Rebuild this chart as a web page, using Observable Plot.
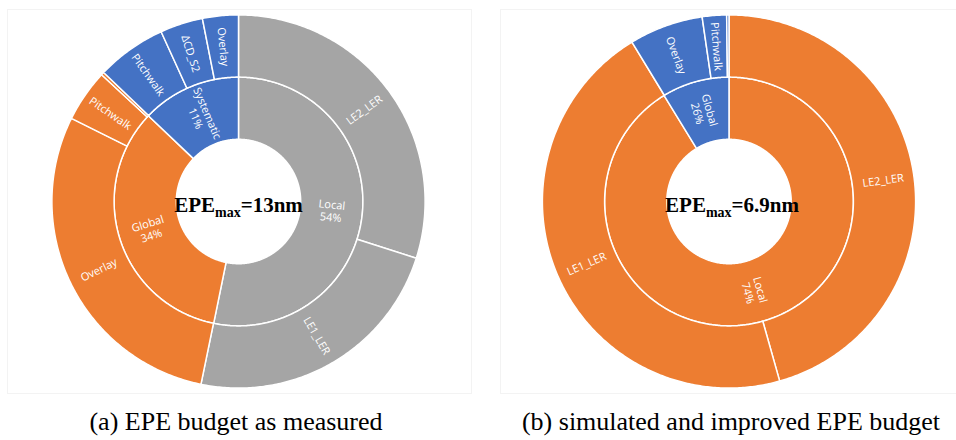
<!DOCTYPE html>
<html><head><meta charset="utf-8">
<script src="https://cdn.jsdelivr.net/npm/d3@7"></script>
<script src="https://cdn.jsdelivr.net/npm/@observablehq/plot@0.6"></script>
<style>
body{margin:0;background:#fff;}
#wrap{position:relative;width:956px;height:440px;overflow:hidden;}
.frame{position:absolute;border:1px solid #f3f3f3;}
#chart{position:absolute;left:0;top:0;}
.cap{position:absolute;top:404px;font-family:"Liberation Serif","Times New Roman",serif;font-size:26px;line-height:36px;white-space:nowrap;transform:translateX(-50%);color:#000;}
</style></head><body>
<div id="wrap">
  <div class="frame" style="left:7px;top:9px;width:463px;height:383px"></div>
  <div class="frame" style="left:500px;top:9px;width:460px;height:383px"></div>
  <div id="chart"></div>
  <div class="cap" id="capA" style="left:236px"></div>
  <div class="cap" id="capB" style="left:731px"></div>
</div>
<script>
// ---------- Chart (a): EPE budget as measured ----------
const innerA = ["Local", "Global", "Systematic"];
const innerA_pct = ["54%", "34%", "11%"];
const innerA_share = [53.2, 33.9, 12.9];          // arc share (% of circle)
const innerA_color = ["#A5A5A5", "#ED7D31", "#4472C4"];
const outerA = ["LE2_LER", "LE1_LER", "Overlay", "Pitchwalk", "", "Pitchwalk", "ΔCD_S2", "Overlay"];
const outerA_parent = ["Local", "Local", "Global", "Global", "Global", "Systematic", "Systematic", "Systematic"];
const outerA_share = [29.9, 23.3, 29.1, 4.55, 0.25, 6.05, 3.7, 3.1];

// ---------- Chart (b): simulated and improved EPE budget ----------
const innerB = ["Local", "Global"];
const innerB_pct = ["74%", "26%"];
const innerB_share = [91.25, 8.75];
const innerB_color = ["#ED7D31", "#4472C4"];
const outerB = ["LE2_LER", "LE1_LER", "Overlay", "Pitchwalk", ""];
const outerB_parent = ["Local", "Local", "Global", "Global", "Global"];
const outerB_share = [45.6, 45.65, 6.4, 2.1, 0.2];

const centerMain = ["EPE", "EPE"];
const centerSub = ["max", "max"];
const centerRest = ["=13nm", "=6.9nm"];
const captions = ["(a) EPE budget as measured", "(b) simulated and improved EPE budget"];

// ---------- layout ----------
const k = 62.2;                 // pixels per ring unit
const centersX = [0, 490.5 / k]; // chart centres in ring units
const centerTextShift = [0, 3 / k];

function build(chart, cx, inner, pct, ishare, icolor, outer, parent, oshare, segs, labels) {
  const itot = d3.sum(ishare), otot = d3.sum(oshare);
  let a = 0;
  inner.forEach((name, i) => {
    const a0 = a, a1 = a + ishare[i] / itot * 2 * Math.PI; a = a1;
    segs.push({id: chart + "i" + i, cx, r0: 1, r1: 2, a0, a1, color: icolor[i]});
    labels.push({cx, r: 1.5, a: (a0 + a1) / 2, text: name + "\n" + pct[i]});
  });
  a = 0;
  outer.forEach((name, i) => {
    const a0 = a, a1 = a + oshare[i] / otot * 2 * Math.PI; a = a1;
    segs.push({id: chart + "o" + i, cx, r0: 2, r1: 3, a0, a1, color: icolor[inner.indexOf(parent[i])]});
    if (name) labels.push({cx, r: 2.5, a: (a0 + a1) / 2, text: name});
  });
}
const segs = [], labels = [];
build("a", centersX[0], innerA, innerA_pct, innerA_share, innerA_color, outerA, outerA_parent, outerA_share, segs, labels);
build("b", centersX[1], innerB, innerB_pct, innerB_share, innerB_color, outerB, outerB_parent, outerB_share, segs, labels);

const points = [];
for (const s of segs) {
  const n = Math.max(2, Math.ceil((s.a1 - s.a0) / 0.01));
  for (let j = 0; j <= n; j++) {
    const t = s.a0 + (s.a1 - s.a0) * j / n;
    points.push({id: s.id, color: s.color, x: s.cx + s.r1 * Math.sin(t), y: s.r1 * Math.cos(t)});
  }
  for (let j = n; j >= 0; j--) {
    const t = s.a0 + (s.a1 - s.a0) * j / n;
    points.push({id: s.id, color: s.color, x: s.cx + s.r0 * Math.sin(t), y: s.r0 * Math.cos(t)});
  }
}
const labelData = labels.map(l => {
  const deg = l.a * 180 / Math.PI;
  return {x: l.cx + l.r * Math.sin(l.a), y: l.r * Math.cos(l.a), text: l.text,
          rotate: deg <= 180 ? deg - 90 : deg - 270};
});
const centerData = centersX.map((cx, i) => ({x: cx + centerTextShift[i], y: 0,
  text: centerMain[i] + "|" + centerSub[i] + "|" + centerRest[i]}));

const chart = Plot.plot({
  width: 956, height: 400, margin: 0,
  x: {domain: [-238 / k, 718 / k], range: [0, 956], axis: null},
  y: {domain: [-199 / k, 201 / k], range: [400, 0], axis: null},
  color: {type: "identity"},
  marks: [
    Plot.line(points, {x: "x", y: "y", z: "id", fill: "color", stroke: "white", strokeWidth: 1.5,
                       curve: "linear-closed", strokeLinejoin: "round"}),
    Plot.text(labelData, {x: "x", y: "y", text: "text", rotate: "rotate", fill: "white",
                          fontSize: 11, fontFamily: "Open Sans", lineHeight: 1.15}),
    Plot.text(centerData, {x: "x", y: "y", text: "text", fill: "black", fontSize: 21,
                           fontFamily: "Liberation Serif", fontWeight: "bold", dy: 4})
  ]
});
// subscript formatting for the centre labels
chart.querySelectorAll("text").forEach(t => {
  const s = t.textContent;
  if (s.includes("|")) {
    const [m, sub, rest] = s.split("|");
    while (t.firstChild) t.removeChild(t.firstChild);
    const ns = "http://www.w3.org/2000/svg";
    const a = document.createElementNS(ns, "tspan"); a.textContent = m;
    const b = document.createElementNS(ns, "tspan"); b.textContent = sub;
    b.setAttribute("font-size", "14"); b.setAttribute("dy", "5");
    const c = document.createElementNS(ns, "tspan"); c.textContent = rest; c.setAttribute("dy", "-5");
    t.append(a, b, c);
  }
});
document.getElementById("chart").appendChild(chart);
document.getElementById("capA").textContent = captions[0];
document.getElementById("capB").textContent = captions[1];
</script>
</body></html>
